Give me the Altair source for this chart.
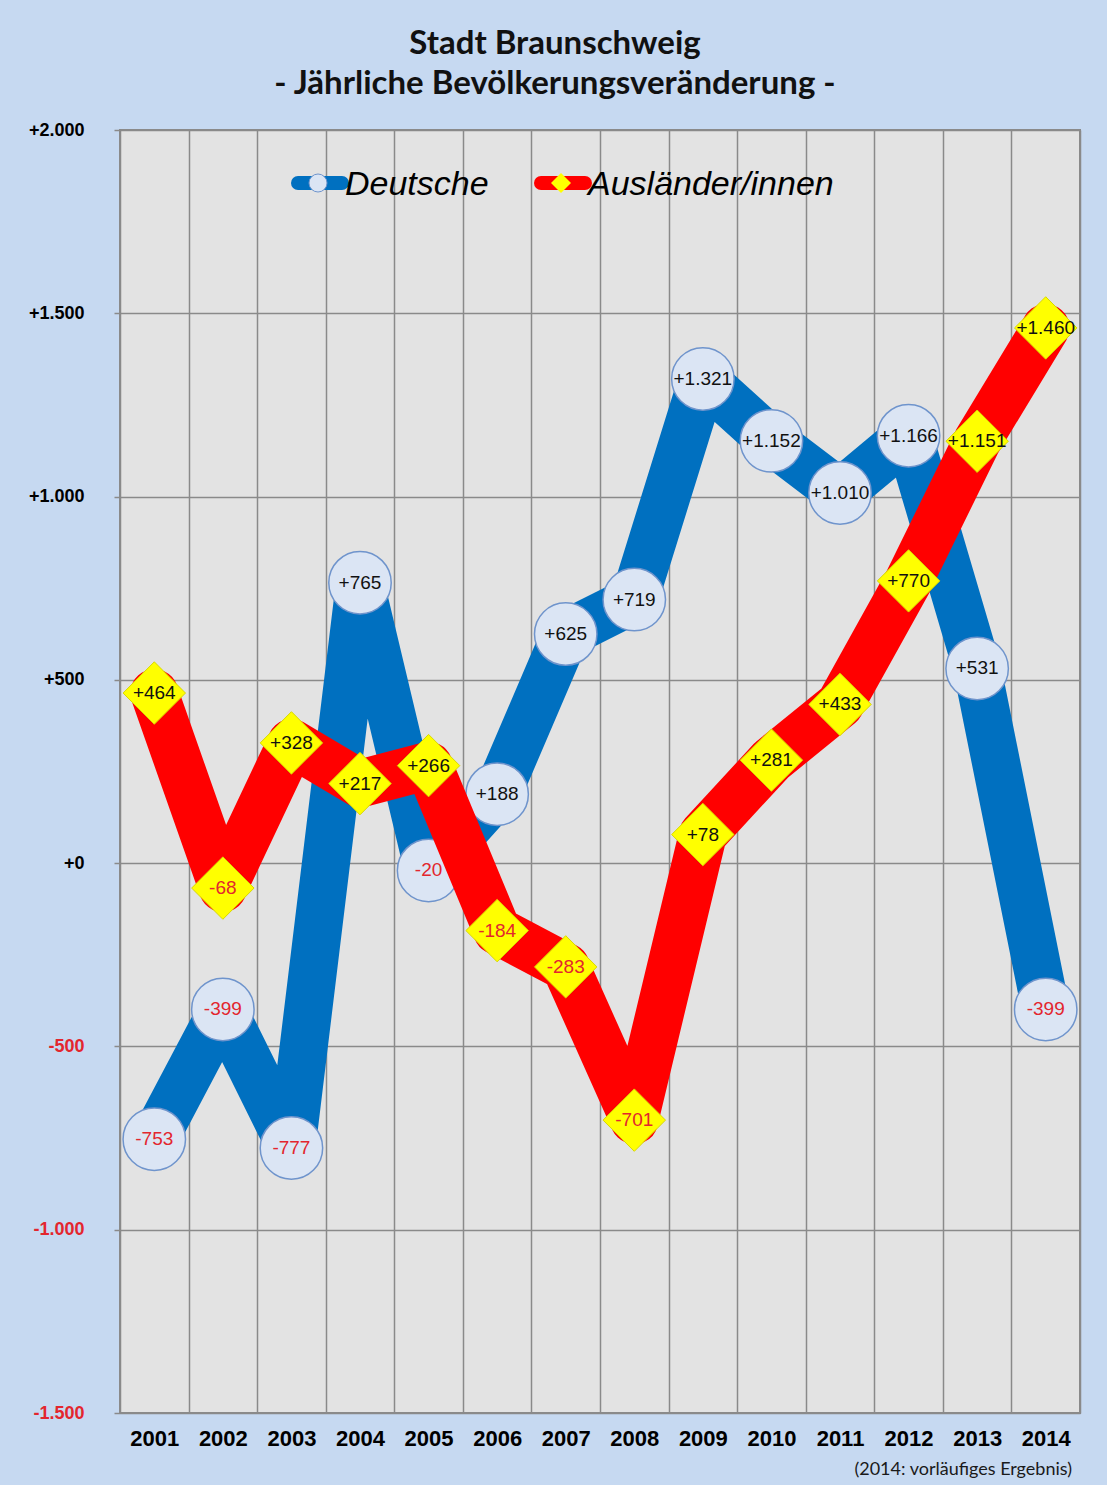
import altair as alt
import pandas as pd

# ---------------- data ----------------
years = list(range(2001, 2015))
deutsche = [-753, -399, -777, 765, -20, 188, 625, 719, 1321, 1152, 1010, 1166, 531, -399]
auslaender = [464, -68, 328, 217, 266, -184, -283, -701, 78, 281, 433, 770, 1151, 1460]
series_names = ["Deutsche", "Ausländer/innen"]
y_ticks = [2000, 1500, 1000, 500, 0, -500, -1000, -1500]
y_tick_labels = ["+2.000", "+1.500", "+1.000", "+500", "+0", "-500", "-1.000", "-1.500"]
title_lines = ["Stadt Braunschweig", "- Jährliche Bevölkerungsveränderung -"]
footnote = "(2014: vorläufiges Ergebnis)"


def fmt(v):
    s = f"{abs(v):,}".replace(",", ".")
    return ("+" if v >= 0 else "-") + s


rows = []
for name, vals in zip(series_names, [deutsche, auslaender]):
    for yr, v in zip(years, vals):
        rows.append({"year": yr, "value": v, "series": name, "label": fmt(v)})
df = pd.DataFrame(rows)

# ---------------- styles ----------------
BLUE = "#0070c0"
RED = "#ff0000"
YELLOW = "#ffff00"
CIRCLE_FILL = "#dbe5f4"
CIRCLE_STROKE = "#6f94cc"
NEG = "#e3262e"
GRID = "#8a8a8a"
BG = "#c6d9f1"
PLOT = "#e3e3e3"

W, H = 960, 1283

boundaries = [y - 0.5 for y in years] + [years[-1] + 0.5]
last_b = boundaries[-1]

xscale = alt.Scale(domain=[boundaries[0], last_b], nice=False, zero=False)
yscale = alt.Scale(domain=[min(y_ticks), max(y_ticks)], nice=False, zero=False)

label_expr_y = " : ".join(
    f"datum.value == {t} ? '{l}'" for t, l in zip(y_ticks, y_tick_labels)
) + " : ''"

xaxis = alt.Axis(
    values=boundaries,
    labelExpr=f"datum.value < {last_b} ? format(datum.value + 0.5, 'd') : ''",
    labelOffset=W / len(years) / 2,
    tickSize=0,
    domain=False,
    grid=True,
    gridColor=GRID,
    gridWidth=1.5,
    labelFont="Liberation Sans",
    labelFontSize=22,
    labelFontWeight="bold",
    labelColor="#000000",
    labelPadding=15,
    labelFlush=False,
    labelOverlap=False,
    title=None,
)
yaxis = alt.Axis(
    values=y_ticks,
    labelExpr=label_expr_y,
    tickSize=6,
    tickColor=GRID,
    tickWidth=1.5,
    domain=False,
    grid=True,
    gridColor=GRID,
    gridWidth=1.5,
    labelFont="Liberation Sans",
    labelFontSize=18,
    labelFontWeight="bold",
    labelColor={"condition": {"test": "datum.value < 0", "value": NEG}, "value": "#000000"},
    labelPadding=30,
    labelFlush=False,
    labelOverlap=False,
    title=None,
)

base = alt.Chart(df).encode(
    x=alt.X("year:Q", scale=xscale, axis=xaxis, title=None),
    y=alt.Y("value:Q", scale=yscale, axis=yaxis, title=None),
)

de = base.transform_filter(alt.datum.series == series_names[0])
au = base.transform_filter(alt.datum.series == series_names[1])

text_color = alt.condition("datum.value < 0", alt.value(NEG), alt.value("#111111"))

blue_line = de.mark_line(color=BLUE, strokeWidth=48, strokeJoin="round", strokeCap="round")
blue_pts = de.mark_point(shape="circle", size=3900, filled=True, fill=CIRCLE_FILL,
                         stroke=CIRCLE_STROKE, strokeWidth=1.5, opacity=1)
blue_txt = de.mark_text(font="Liberation Sans", fontSize=19, baseline="middle").encode(
    text="label:N", color=text_color)

red_line = au.mark_line(color=RED, strokeWidth=48, strokeJoin="round", strokeCap="round")
red_pts = au.mark_point(shape="diamond", size=3900, filled=True, fill=YELLOW,
                        stroke="#d8d800", strokeWidth=1, opacity=1)
red_txt = au.mark_text(font="Liberation Sans", fontSize=19, baseline="middle").encode(
    text="label:N", color=text_color)

one = alt.InlineData(values=[{"a": 1}])

leg_blue_line = alt.Chart(one).mark_rule(color=BLUE, strokeWidth=14, strokeCap="round").encode(
    x=alt.value(178), x2=alt.value(222), y=alt.value(53))
leg_blue_pt = alt.Chart(one).mark_point(shape="circle", size=324, filled=True, fill=CIRCLE_FILL,
                                        stroke=CIRCLE_STROKE, strokeWidth=1, opacity=1).encode(
    x=alt.value(198), y=alt.value(53))
leg_blue_txt = alt.Chart(one).mark_text(font="Liberation Sans", fontSize=34, fontStyle="italic",
                                        align="left", baseline="alphabetic", color="#000000").encode(
    x=alt.value(225), y=alt.value(65), text=alt.value(series_names[0]))

leg_red_line = alt.Chart(one).mark_rule(color=RED, strokeWidth=14, strokeCap="round").encode(
    x=alt.value(421), x2=alt.value(465), y=alt.value(53))
leg_red_pt = alt.Chart(one).mark_point(shape="diamond", size=400, filled=True, fill=YELLOW,
                                       opacity=1).encode(x=alt.value(441), y=alt.value(53))
leg_red_txt = alt.Chart(one).mark_text(font="Liberation Sans", fontSize=34, fontStyle="italic",
                                       align="left", baseline="alphabetic", color="#000000").encode(
    x=alt.value(468), y=alt.value(65), text=alt.value(series_names[1]))

foot = alt.Chart(one).mark_text(font="Lato", fontSize=18, align="right", baseline="middle",
                                color="#1a1a1a").encode(
    x=alt.value(952), y=alt.value(1340), text=alt.value(footnote))

chart = alt.layer(
    blue_line, blue_pts, blue_txt, red_line, red_pts, red_txt,
    leg_blue_line, leg_blue_pt, leg_blue_txt, leg_red_line, leg_red_pt, leg_red_txt, foot,
).properties(
    width=W,
    height=H,
    autosize=alt.AutoSizeParams(type="none"),
    padding={"left": 120, "top": 130, "right": 27, "bottom": 72},
    background=BG,
    title=alt.TitleParams(
        text=title_lines, font="Lato", fontSize=33, fontWeight="bold", color="#111111",
        anchor="middle", dx=-45, offset=20, lineHeight=40,
    ),
).configure_view(
    stroke=GRID, strokeWidth=2, fill=PLOT,
)

chart.save("out.html", embed_options={"renderer": "svg", "actions": False})
